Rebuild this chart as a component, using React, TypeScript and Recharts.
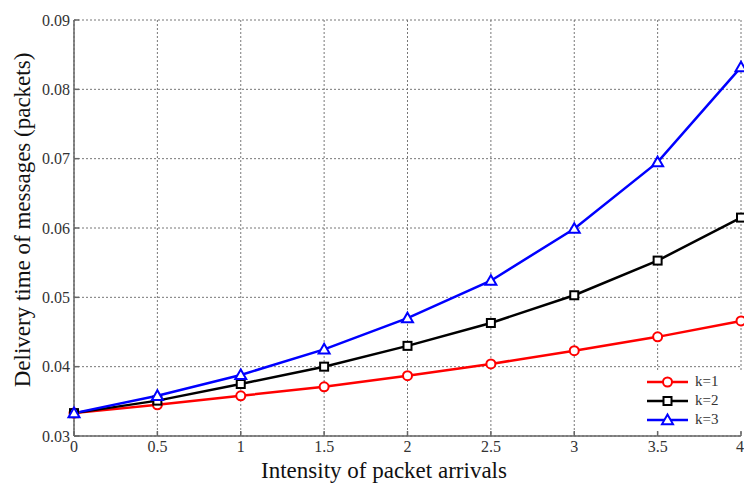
import React from 'react';
import { LineChart, Line, XAxis, YAxis, CartesianGrid, Legend } from 'recharts';

// Intensity of packet arrivals
const ARRIVALS = [0, 0.5, 1, 1.5, 2, 2.5, 3, 3.5, 4];
// Delivery time of messages (packets)
const K1 = [0.0333, 0.0345, 0.0358, 0.0371, 0.0387, 0.0404, 0.0423, 0.0443, 0.0466];
const K2 = [0.0333, 0.0351, 0.0375, 0.0400, 0.0430, 0.0463, 0.0503, 0.0553, 0.0615];
const K3 = [0.0333, 0.0358, 0.0388, 0.0425, 0.0470, 0.0524, 0.0599, 0.0695, 0.0832];

const X_TICKS = [0, 0.5, 1, 1.5, 2, 2.5, 3, 3.5, 4];
const Y_TICKS = [0.03, 0.04, 0.05, 0.06, 0.07, 0.08, 0.09];

const SERIES = [
  { key: 'k1', name: 'k=1', color: '#ff0000', marker: 'circle' },
  { key: 'k2', name: 'k=2', color: '#000000', marker: 'square' },
  { key: 'k3', name: 'k=3', color: '#0000ff', marker: 'triangle' },
];

const data = ARRIVALS.map((x, i) => ({
  x,
  k1: K1[i],
  k2: K2[i],
  k3: K3[i],
}));

const FONT = 'Liberation Serif, Times New Roman, serif';
const AXIS_COLOR = '#666';

function Marker({ type, cx, cy, color }: { type: string; cx: number; cy: number; color: string }) {
  if (type === 'circle') {
    return <circle cx={cx} cy={cy} r={4.5} fill="#fff" stroke={color} strokeWidth={2} />;
  }
  if (type === 'square') {
    return <rect x={cx - 4} y={cy - 4} width={8} height={8} fill="#fff" stroke={color} strokeWidth={2} />;
  }
  const s = 5.5;
  return (
    <polygon
      points={`${cx},${cy - s} ${cx + s},${cy + s * 0.75} ${cx - s},${cy + s * 0.75}`}
      fill="#fff"
      stroke={color}
      strokeWidth={2}
    />
  );
}

const makeDot = (type: string, color: string) => (props: any) => {
  const { cx, cy, index } = props;
  if (cx == null || cy == null) return <g key={index} />;
  return <Marker key={index} type={type} cx={cx} cy={cy} color={color} />;
};

const LegendBox = () => (
  <div style={{ background: '#fff', width: 104, height: 58, fontFamily: FONT, fontSize: 15, color: '#333' }}>
    {SERIES.map((s) => (
      <div key={s.key} style={{ display: 'flex', alignItems: 'center', height: 19 }}>
        <svg width={48} height={16} style={{ marginLeft: 5 }}>
          <line x1={2} y1={8} x2={43} y2={8} stroke={s.color} strokeWidth={2.5} />
          <Marker type={s.marker} cx={22.5} cy={8} color={s.color} />
        </svg>
        <span style={{ marginLeft: 2 }}>{s.name}</span>
      </div>
    ))}
  </div>
);

const tickStyle = { fill: '#333', fontSize: 16, style: { fontFamily: FONT } };

export default function App() {
  return (
    <div style={{ position: 'fixed', left: 0, top: 0, width: 744, height: 484, background: '#fff', fontFamily: FONT }}>
      <LineChart width={744} height={484} data={data} margin={{ top: 20, right: 3, bottom: 0, left: 0 }} style={{ fontFamily: FONT }}>
        <CartesianGrid stroke="#777" strokeDasharray="2 2" strokeWidth={1} />
        <XAxis
          dataKey="x"
          type="number"
          domain={[0, 4]}
          ticks={X_TICKS}
          height={48}
          stroke={AXIS_COLOR}
          strokeWidth={1.5}
          tickSize={-5}
          tickMargin={10}
          tick={tickStyle}
          label={{
            content: () => (
              <text x={384} y={470} textAnchor="middle" dominantBaseline="central" fill="#111" style={{ fontFamily: FONT, fontSize: 23 }}>
                Intensity of packet arrivals
              </text>
            ),
          }}
        />
        <XAxis
          xAxisId="top"
          dataKey="x"
          type="number"
          orientation="top"
          domain={[0, 4]}
          ticks={X_TICKS}
          height={0}
          stroke={AXIS_COLOR}
          strokeWidth={1.5}
          tickSize={-5}
          tick={false}
        />
        <YAxis
          type="number"
          domain={[0.03, 0.09]}
          ticks={Y_TICKS}
          width={74}
          stroke={AXIS_COLOR}
          strokeWidth={1.5}
          tickSize={-5}
          tickMargin={9}
          tickFormatter={(v: number) => v.toFixed(2)}
          tick={tickStyle}
          label={{
            content: () => (
              <text
                x={22}
                y={220}
                transform="rotate(-90 22 220)"
                textAnchor="middle"
                dominantBaseline="central"
                fill="#111"
                style={{ fontFamily: FONT, fontSize: 23 }}
              >
                Delivery time of messages (packets)
              </text>
            ),
          }}
        />
        <YAxis
          yAxisId="right"
          orientation="right"
          type="number"
          domain={[0.03, 0.09]}
          ticks={Y_TICKS}
          width={0}
          stroke={AXIS_COLOR}
          strokeWidth={1.5}
          tickSize={-5}
          tick={false}
        />
        {SERIES.map((s) => (
          <Line
            key={s.key}
            dataKey={s.key}
            name={s.name}
            type="linear"
            stroke={s.color}
            strokeWidth={2.5}
            dot={makeDot(s.marker, s.color)}
            activeDot={false}
            isAnimationActive={false}
          />
        ))}
        <Legend
          layout="vertical"
          align="center"
          verticalAlign="middle"
          content={() => <LegendBox />}
          wrapperStyle={{ position: 'absolute', left: 640, top: 372, width: 104, height: 58 }}
        />
      </LineChart>
    </div>
  );
}
